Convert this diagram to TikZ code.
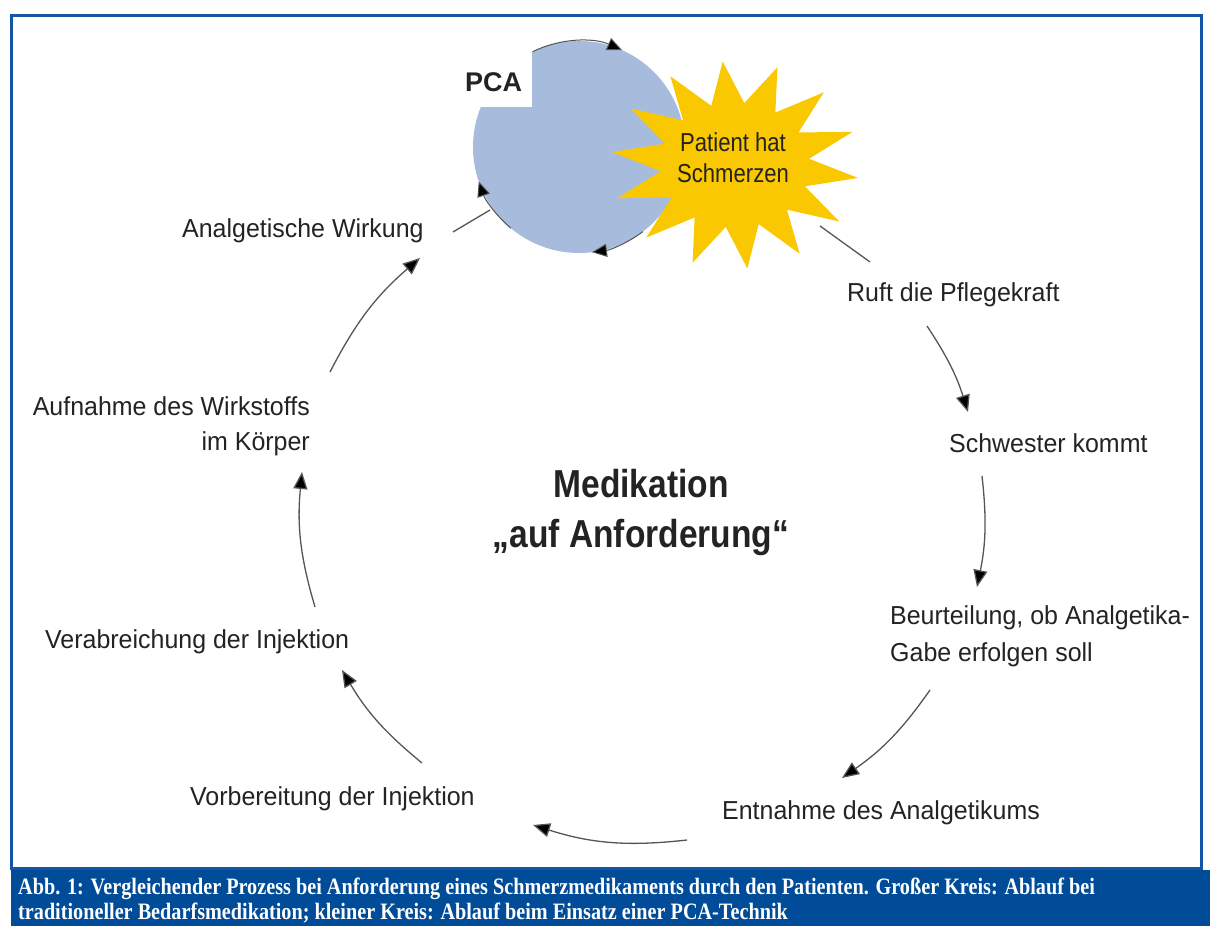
\documentclass[tikz,border=0pt]{standalone}
\usepackage{fontspec}
\setmainfont{Liberation Sans}
\newfontfamily\labfont[FakeStretch=0.96]{Liberation Sans}
\newfontfamily\starfont[FakeStretch=0.85]{Liberation Sans}
\newfontfamily\medfont[FakeStretch=0.86]{Liberation Sans}
\newfontfamily\capfont[FakeStretch=0.86]{Liberation Serif}
\usetikzlibrary{arrows.meta}
\definecolor{framecol}{RGB}{20,85,165}
\definecolor{capbg}{RGB}{0,76,152}
\definecolor{pcafill}{RGB}{167,188,221}
\definecolor{starfill}{RGB}{250,200,0}
\definecolor{linecol}{RGB}{85,85,85}
\definecolor{txt}{RGB}{35,35,35}
\begin{document}
\begin{tikzpicture}[x=1pt,y=1pt,
  lab/.style={font=\labfont\fontsize{26}{35}\selectfont, text=txt, inner sep=0pt},
  flow/.style={draw=linecol, line width=1.3pt, -{Triangle[length=17pt,width=14pt,fill=black]}},
  plain/.style={draw=linecol, line width=1.3pt},
  pcaarrow/.style={draw=linecol, line width=1pt, -{Triangle[length=15pt,width=13pt,fill=black]}}]
\useasboundingbox (0,0) rectangle (1210,926);
\fill[white] (0,0) rectangle (1210,926);
\draw[framecol, line width=3pt] (11,57) rectangle (1201,910);
\fill[capbg] (11,0) rectangle (1210,56);
\node[anchor=north west, text=white, align=left, inner sep=0pt,
  font=\capfont\bfseries\fontsize{23.5}{25}\selectfont] (cap) at (18,48)
  {Abb. 1: Vergleichender Prozess bei Anforderung eines Schmerzmedikaments durch den Patienten. Großer Kreis: Ablauf bei\\
   traditioneller Bedarfsmedikation; kleiner Kreis: Ablauf beim Einsatz einer PCA-Technik};

% PCA circle
\coordinate (pc) at (579,779);
\fill[pcafill] (pc) circle[radius=106];
\fill[white] (455,819) rectangle (532,895);
\draw[pcaarrow] (pc) ++(116:106) arc[start angle=116,end angle=66,radius=106];
\draw[pcaarrow] (pc) ++(230:106) arc[start angle=230,end angle=199,radius=106];
\draw[pcaarrow] (pc) ++(307:106) arc[start angle=307,end angle=277,radius=106];
\node[anchor=base west, inner sep=0pt, text=txt, font=\bfseries\fontsize{27}{30}\selectfont] (pca) at (465,834) {PCA};

% star
\fill[starfill] plot[samples at={0,...,27}]
  ({735+124*(1-0.4*mod(\x,2))*cos(70+\x*360/28)}, {761+104*(1-0.4*mod(\x,2))*sin(70+\x*360/28)}) -- cycle;
\node[align=center, inner sep=0pt, text=txt, font=\starfont\fontsize{26}{31}\selectfont] (pain) at (733,768) {Patient hat\\Schmerzen};

% labels
\node[lab, anchor=base west] (ruft) at (847,624) {Ruft die Pflegekraft};
\node[lab, anchor=base west] (schw) at (949,473) {Schwester kommt};
\node[lab, anchor=north west, align=left, font=\labfont\fontsize{26}{37}\selectfont] (beur) at (890,321) {Beurteilung, ob Analgetika-\\Gabe erfolgen soll};
\node[lab, anchor=base west] (entn) at (722,106) {Entnahme des Analgetikums};
\node[lab, anchor=base west] (vorb) at (190,120) {Vorbereitung der Injektion};
\node[lab, anchor=base west] (verab) at (45,277) {Verabreichung der Injektion};
\node[lab, anchor=north east, align=right] (aufn) at (310,530) {Aufnahme des Wirkstoffs\\im Körper};
\node[lab, anchor=base west] (wirk) at (182,688) {Analgetische Wirkung};
\node[align=center, inner sep=0pt, text=txt, font=\medfont\bfseries\fontsize{39}{50}\selectfont, anchor=north] (med) at (641,457) {Medikation\\„auf Anforderung“};

% connectors
\coordinate (a1) at (820,700); \coordinate (b1) at (870,664);
\coordinate (a2) at (927,600); \coordinate (b2) at (968,514);
\coordinate (a3) at (982,450); \coordinate (b3) at (977,339);
\coordinate (a4) at (930,236); \coordinate (b4) at (842,148);
\coordinate (a5) at (687,86);  \coordinate (b5) at (533,101);
\coordinate (a6) at (422,163); \coordinate (b6) at (342,256);
\coordinate (a7) at (315,319); \coordinate (b7) at (302,454);
\coordinate (a8) at (330,554); \coordinate (b8) at (420,668);
\coordinate (a9) at (453,694); \coordinate (b9) at (490,716);
\draw[plain] (a1) -- (b1);
\draw[flow] (a2) to[bend left=8] (b2);
\draw[flow] (a3) to[bend left=9] (b3);
\draw[flow] (a4) to[bend left=10] (b4);
\draw[flow] (a5) to[bend left=12] (b5);
\draw[flow] (a6) to[bend left=10] (b6);
\draw[flow] (a7) to[bend left=11] (b7);
\draw[flow] (a8) to[bend left=11] (b8);
\draw[plain] (a9) -- (b9);
\end{tikzpicture}
\end{document}
